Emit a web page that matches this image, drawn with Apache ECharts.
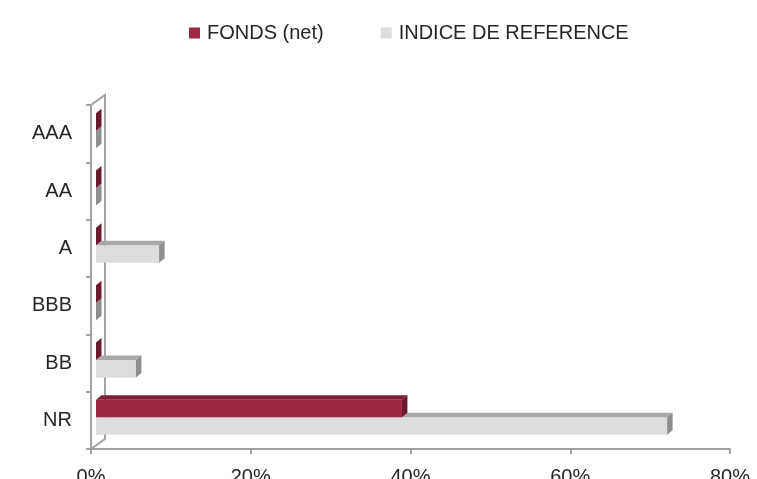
<!DOCTYPE html>
<html>
<head>
<meta charset="utf-8">
<script src="https://cdn.jsdelivr.net/npm/echarts@6/dist/echarts.min.js"></script>
<style>
html,body{margin:0;padding:0;background:#fff;}
#chart{width:757px;height:479px;}
</style>
</head>
<body>
<div id="chart"></div>
<script>
const categories = ['NR', 'BB', 'BBB', 'A', 'AA', 'AAA'];
const fondsValues = [38.3, 0, 0, 0, 0, 0];
const indiceValues = [71.5, 5.0, 0, 7.9, 0, 0];
const seriesNames = ['FONDS (net)', 'INDICE DE REFERENCE'];
const xMin = 0, xMax = 80, xInterval = 20;

const FONT = "'Liberation Sans', Arial, sans-serif";
const AXIS_COLOR = '#A3A3A3';
const TEXT_COLOR = '#262626';

const styles = [
  { front: '#9E2843', top: '#7E1F36', side: '#6A1A2D', upper: true },
  { front: '#DDDDDE', top: '#A8A8A8', side: '#8E8E8E', upper: false }
];

function make3DRender(st) {
  return function (params, api) {
    const v = api.value(0), ci = api.value(1);
    const p0 = api.coord([0, ci]);
    const p1 = api.coord([v, ci]);
    const band = api.size([0, 1])[1];
    const h = band * 0.305;
    const ox = 5, oy = -3, dx = 5.5, dy = -4.5;
    const x0 = p0[0] + ox, x1 = p1[0] + ox;
    const yT = (st.upper ? p0[1] - h : p0[1]) + oy;
    const yB = (st.upper ? p0[1] : p0[1] + h) + oy;
    const children = [];
    if (x1 > x0) {
      children.push({ type: 'rect', shape: { x: x0, y: yT, width: x1 - x0, height: yB - yT }, style: { fill: st.front } });
      children.push({ type: 'polygon', shape: { points: [[x0, yT], [x0 + dx, yT + dy], [x1 + dx, yT + dy], [x1, yT]] }, style: { fill: st.top } });
    }
    children.push({ type: 'polygon', shape: { points: [[x1, yT], [x1 + dx, yT + dy], [x1 + dx, yB + dy], [x1, yB]] }, style: { fill: st.side } });
    return { type: 'group', children: children };
  };
}

function wallRender(params, api) {
  const cs = params.coordSys;
  const dx = 14, dy = -10;
  const left = cs.x, top = cs.y, bottom = cs.y + cs.height;
  return {
    type: 'polyline',
    shape: { points: [[left, top], [left + dx, top + dy], [left + dx, bottom + dy], [left, bottom]] },
    style: { stroke: AXIS_COLOR, lineWidth: 2, fill: null }
  };
}

const chart = echarts.init(document.getElementById('chart'), null, { renderer: 'canvas' });
chart.setOption({
  animation: false,
  backgroundColor: '#fff',
  legend: {
    data: seriesNames,
    left: 184,
    top: 18,
    icon: 'rect',
    itemWidth: 11,
    itemHeight: 11,
    itemGap: 57,
    textStyle: { fontFamily: FONT, fontSize: 20, color: TEXT_COLOR, padding: [0, 0, 0, 2] }
  },
  grid: { left: 91, right: 27, top: 105, bottom: 30, containLabel: false, outerBoundsMode: 'none' },
  xAxis: {
    type: 'value', min: xMin, max: xMax, interval: xInterval,
    axisLine: { show: true, lineStyle: { color: AXIS_COLOR, width: 2 } },
    axisTick: { show: true, length: 5, lineStyle: { color: AXIS_COLOR, width: 2 } },
    splitLine: { show: false },
    axisLabel: { formatter: '{value}%', fontFamily: FONT, fontSize: 20, color: TEXT_COLOR, margin: 18 }
  },
  yAxis: {
    type: 'category', data: categories,
    axisLine: { show: true, lineStyle: { color: AXIS_COLOR, width: 2 } },
    axisTick: { show: true, length: 5, lineStyle: { color: AXIS_COLOR, width: 2 } },
    axisLabel: { fontFamily: FONT, fontSize: 20, color: TEXT_COLOR, margin: 19, padding: [6, 0, 0, 0] }
  },
  series: [
    { type: 'custom', name: 'wall', renderItem: wallRender, data: [[0, 0]], z: 1, silent: true },
    { type: 'custom', name: seriesNames[1], renderItem: make3DRender(styles[1]),
      itemStyle: { color: styles[1].front }, encode: { x: 0, y: 1 },
      data: indiceValues.map((v, i) => [v, i]), z: 2 },
    { type: 'custom', name: seriesNames[0], renderItem: make3DRender(styles[0]),
      itemStyle: { color: styles[0].front }, encode: { x: 0, y: 1 },
      data: fondsValues.map((v, i) => [v, i]), z: 3 }
  ]
});
</script>
</body>
</html>
